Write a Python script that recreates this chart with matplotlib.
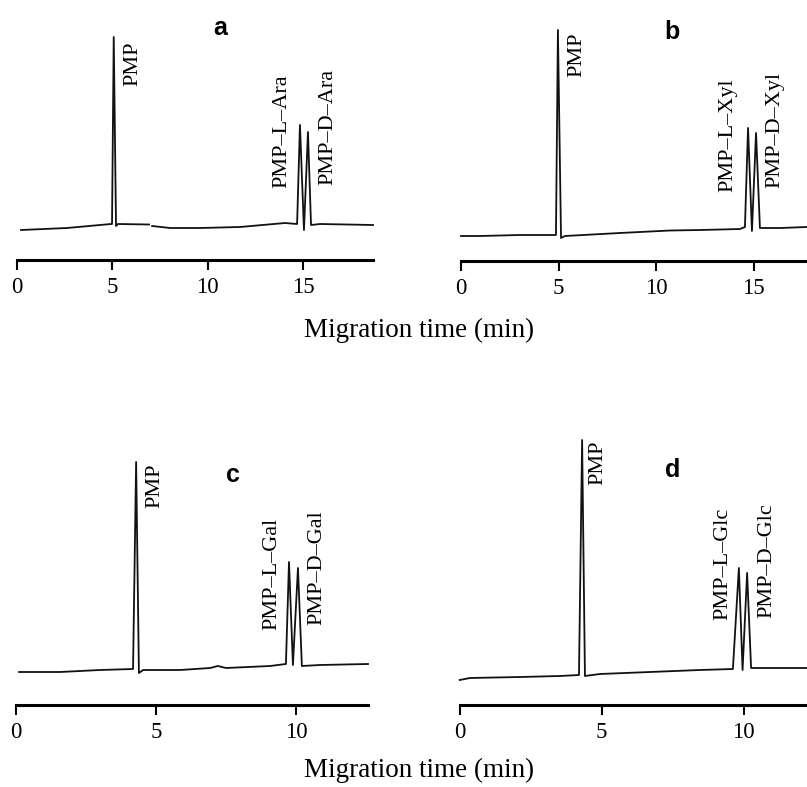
#!/usr/bin/env python3
"""Chiral CE separation of PMP-sugar enantiomers: four electropherograms (a-d)."""
import numpy as np
import matplotlib
matplotlib.use("Agg")
import matplotlib.pyplot as plt

nan = np.nan

# --- panel a: arabinose (time in min, detector signal in arbitrary units) ---
time_a = [0.21, 2.62, 4.35, 4.93, 4.98, 5.07, 5.19, 5.29, 6.92, nan,
          7.08, 8.02, 9.59, 11.69, 14.05, 14.68, 14.83, 15.04, 15.25, 15.41, 15.88, 18.66]
signal_a = [30, 32, 35, 36, 36, 223, 34, 36, 35.5, nan,
            34, 32, 32, 33, 37, 36, 135, 30, 128, 35, 36, 35]
labels_a = ["PMP", "PMP\u2013L\u2013Ara", "PMP\u2013D\u2013Ara"]

# --- panel b: xylose ---
time_b = [0.0, 0.97, 3.03, 4.87, 4.97, 5.13, 5.33, 8.15, 10.72, 12.26,
          14.31, 14.56, 14.72, 14.92, 15.13, 15.33, 16.36, 17.74]
signal_b = [25, 25, 26, 26, 231, 23, 25, 28, 30.5, 31,
            32, 34, 133, 30, 128, 33, 33, 34]
labels_b = ["PMP", "PMP\u2013L\u2013Xyl", "PMP\u2013D\u2013Xyl"]

# --- panel c: galactose ---
time_c = [0.11, 1.57, 3.0, 4.18, 4.29, 4.39, 4.54, 5.86, 6.93, 7.21, 7.5,
          9.07, 9.64, 9.75, 9.89, 10.07, 10.21, 10.86, 12.57]
signal_c = [33, 33, 35, 36, 243, 32, 35, 35, 37, 39, 37,
            39, 41, 143, 40, 137, 39, 40, 41]
labels_c = ["PMP", "PMP\u2013L\u2013Gal", "PMP\u2013D\u2013Gal"]

# --- panel d: glucose ---
time_d = [0.0, 0.36, 2.12, 3.53, 4.2, 4.31, 4.41, 4.94, 6.7, 8.46,
          9.62, 9.83, 9.96, 10.12, 10.26, 12.23]
signal_d = [25, 27, 28, 29, 30, 265, 29, 31, 33, 35,
            36, 137, 35, 132, 37, 37]
labels_d = ["PMP", "PMP\u2013L\u2013Glc", "PMP\u2013D\u2013Glc"]

ticks_ab = [0, 5, 10, 15]
ticks_cd = [0, 5, 10]
XLABEL = "Migration time (min)"

W, H = 807, 787
SERIF = ["Liberation Serif", "DejaVu Serif"]


def add_panel(fig, x0_px, px_per_min, axis_y, top_y, xmax, ticks):
    # place an axes so that t=0 sits at x0_px and the time axis line at axis_y
    left = x0_px / W
    width = xmax * px_per_min / W
    bottom = 1 - axis_y / H
    height = (axis_y - top_y) / H
    ax = fig.add_axes([left, bottom, width, height])
    ax.set_xlim(0, xmax)
    ax.set_ylim(0, axis_y - top_y)
    for side in ("top", "right", "left"):
        ax.spines[side].set_visible(False)
    ax.spines["bottom"].set_linewidth(2.2)
    ax.set_yticks([])
    ax.set_xticks(ticks)
    ax.tick_params(axis="x", direction="out", length=7, width=1.5, pad=5)
    for lab in ax.get_xticklabels():
        lab.set_fontfamily(SERIF)
        lab.set_fontsize(16.5)
    ax.patch.set_alpha(0)
    return ax


def draw(ax, t, s, labels, label_pos):
    ax.plot(t, s, color="#111111", linewidth=1.3, clip_on=False)
    for text, (lx, ly) in zip(labels, label_pos):
        ax.text(lx, ly, text, rotation=90, ha="center", va="bottom",
                fontsize=16, family=SERIF)


def main() -> None:
    fig = plt.figure(figsize=(W / 100, H / 100), dpi=100)

    ax_a = add_panel(fig, 17, 19.08, 260, 5, 18.66, ticks_ab)
    draw(ax_a, time_a, signal_a, labels_a, [(6.08, 174), (13.89, 72), (16.3, 75)])

    ax_b = add_panel(fig, 461, 19.5, 261, 5, 17.9, ticks_ab)
    draw(ax_b, time_b, signal_b, labels_b, [(5.95, 184), (13.69, 69), (16.1, 73)])

    ax_c = add_panel(fig, 16, 28.0, 705, 430, 12.57, ticks_cd)
    draw(ax_c, time_c, signal_c, labels_c, [(4.96, 197), (9.14, 75), (10.75, 80)])

    ax_d = add_panel(fig, 459.7, 28.4, 705, 430, 12.4, ticks_cd)
    draw(ax_d, time_d, signal_d, labels_d, [(4.87, 220), (9.27, 85), (10.82, 87)])

    for letter, (px, py) in zip("abcd", [(220, 28), (672, 32), (233, 475), (673, 470)]):
        fig.text(px / W, 1 - py / H, letter, ha="center", va="center",
                 fontsize=18, fontweight="bold", family=["Liberation Sans", "DejaVu Sans"])

    for py in (330, 770):
        fig.text(419 / W, 1 - py / H, XLABEL, ha="center", va="center",
                 fontsize=19.5, family=SERIF)

    fig.savefig("out.png", dpi=100)


if __name__ == "__main__":
    main()
